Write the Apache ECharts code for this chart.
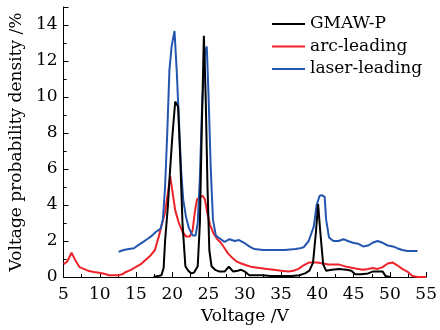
<!DOCTYPE html>
<html>
<head>
<meta charset="utf-8">
<script src="https://cdn.jsdelivr.net/npm/echarts@6/dist/echarts.min.js"></script>
<style>
  html, body { margin: 0; padding: 0; background: #fff; }
  #chart { width: 440px; height: 330px; }
</style>
</head>
<body>
<div id="chart"></div>
<script>
// voltage (V) / probability density (%)
const gmawV = [17.4, 18.0, 18.5, 18.8, 19.0, 19.4, 19.7, 20.0, 20.4, 20.8, 21.1, 21.4, 21.8, 22.2, 22.6, 23.0, 23.5, 23.8, 24.05, 24.35, 24.6, 24.85, 25.1, 25.4, 25.9, 26.5, 27.2, 27.8, 28.4, 29.0, 29.5, 30.0, 30.6, 31.5, 32.5, 33.5, 35.0, 36.5, 37.5, 38.3, 38.9, 39.4, 39.8, 40.1, 40.4, 40.8, 41.2, 42.0, 43.0, 44.0, 44.7, 45.2, 46.0, 47.0, 47.6, 48.3, 49.0, 49.4, 50.0];
const gmawP = [0, 0.05, 0.1, 0.5, 2.0, 4.0, 6.0, 7.8, 9.75, 9.45, 6.5, 3.0, 0.6, 0.35, 0.2, 0.25, 0.6, 3.0, 8.0, 13.4, 10.0, 5.0, 1.5, 0.6, 0.4, 0.3, 0.3, 0.57, 0.3, 0.35, 0.4, 0.3, 0.1, 0.1, 0.1, 0.05, 0.05, 0.05, 0.1, 0.2, 0.35, 0.8, 2.5, 4.05, 2.5, 0.7, 0.35, 0.4, 0.45, 0.4, 0.35, 0.15, 0.15, 0.2, 0.3, 0.3, 0.3, 0.05, 0];

const arcV = [5.0, 5.5, 6.1, 6.6, 7.2, 7.8, 8.5, 9.2, 9.9, 10.6, 11.3, 12.0, 12.6, 13.1, 13.6, 14.3, 15.0, 15.6, 16.3, 17.0, 17.6, 18.1, 18.6, 19.0, 19.4, 19.7, 20.0, 20.4, 20.9, 21.4, 21.9, 22.4, 22.8, 23.1, 23.4, 23.8, 24.2, 24.5, 24.8, 25.2, 25.7, 26.2, 26.7, 27.2, 27.7, 28.3, 28.9, 29.5, 30.2, 31.0, 32.0, 33.0, 34.0, 35.0, 36.0, 36.7, 37.4, 38.1, 38.8, 40.0, 41.5, 42.9, 44.2, 45.6, 46.3, 47.0, 47.6, 48.3, 49.0, 49.7, 50.4, 51.0, 51.7, 52.4, 53.1, 53.8, 55.0];
const arcP = [0.72, 0.85, 1.35, 0.95, 0.55, 0.45, 0.33, 0.28, 0.24, 0.18, 0.1, 0.1, 0.1, 0.15, 0.28, 0.4, 0.56, 0.7, 0.95, 1.2, 1.5, 2.2, 3.0, 3.6, 4.7, 5.6, 4.8, 3.7, 3.0, 2.5, 2.25, 2.25, 2.6, 3.6, 4.3, 4.45, 4.5, 4.3, 3.6, 2.9, 2.4, 2.1, 1.9, 1.6, 1.3, 1.05, 0.85, 0.75, 0.65, 0.55, 0.5, 0.45, 0.4, 0.35, 0.3, 0.35, 0.45, 0.65, 0.8, 0.8, 0.7, 0.7, 0.55, 0.45, 0.4, 0.45, 0.5, 0.45, 0.55, 0.75, 0.8, 0.65, 0.45, 0.3, 0.05, 0, 0];

const laserV = [12.6, 13.3, 14.0, 14.7, 15.4, 16.0, 16.7, 17.2, 17.7, 18.1, 18.4, 18.7, 19.0, 19.3, 19.6, 19.9, 20.3, 20.6, 20.9, 21.2, 21.5, 21.9, 22.3, 22.8, 23.2, 23.5, 23.8, 24.1, 24.5, 24.75, 25.0, 25.3, 25.6, 26.0, 26.5, 27.2, 27.9, 28.6, 29.2, 29.9, 30.6, 31.3, 32.5, 34.0, 35.5, 37.0, 37.6, 38.1, 38.8, 39.5, 39.9, 40.3, 40.6, 41.0, 41.2, 41.6, 42.2, 42.9, 43.6, 44.2, 44.9, 45.6, 46.3, 47.0, 47.6, 48.3, 49.0, 49.7, 50.4, 51.0, 51.7, 52.4, 53.1, 53.8];
const laserP = [1.4, 1.5, 1.55, 1.6, 1.8, 1.95, 2.15, 2.3, 2.5, 2.6, 2.7, 3.2, 5.0, 8.0, 11.5, 12.8, 13.67, 11.5, 8.8, 6.0, 4.3, 3.3, 2.7, 2.3, 2.3, 3.0, 5.5, 9.5, 12.5, 12.8, 10.0, 6.0, 3.2, 2.3, 2.15, 1.95, 2.1, 2.0, 2.05, 1.9, 1.7, 1.55, 1.5, 1.5, 1.5, 1.55, 1.6, 1.65, 2.0, 2.8, 4.0, 4.5, 4.55, 4.45, 3.2, 2.2, 2.0, 2.0, 2.1, 2.0, 1.9, 1.85, 1.7, 1.75, 1.9, 2.0, 1.9, 1.75, 1.7, 1.6, 1.5, 1.45, 1.45, 1.45];

const seriesNames = ['GMAW-P', 'arc-leading', 'laser-leading'];
const seriesColors = ['#000000', '#ee2229', '#2456b0'];

const FONT = 'DejaVu Serif';

function pairs(xs, ys) {
  return xs.map((x, i) => [x, ys[i]]);
}

const chart = echarts.init(document.getElementById('chart'), null, { renderer: 'canvas' });

const axisCommon = {
  axisLine: { show: true, lineStyle: { color: '#000', width: 1 } },
  axisTick: { show: true, inside: true, length: 5, lineStyle: { color: '#000' } },
  minorTick: { show: true, splitNumber: 2, length: 3, lineStyle: { color: '#000' } },
  splitLine: { show: false },
  axisLabel: { color: '#000', fontFamily: FONT, fontSize: 17 },
  nameTextStyle: { color: '#000', fontFamily: FONT, fontSize: 17 }
};

chart.setOption({
  animation: false,
  backgroundColor: '#fff',
  grid: { left: 62, right: 10.5, top: 7, bottom: 53 },
  legend: {
    orient: 'vertical',
    left: 267,
    top: 9,
    itemWidth: 33,
    itemHeight: 2,
    itemGap: 2.5,
    icon: 'rect',
    textStyle: { color: '#000', fontFamily: FONT, fontSize: 17, lineHeight: 20 },
    data: seriesNames
  },
  xAxis: Object.assign({}, axisCommon, {
    type: 'value',
    min: 5,
    max: 55,
    interval: 5,
    name: 'Voltage /V',
    nameLocation: 'middle',
    nameGap: 30,
    axisLabel: Object.assign({}, axisCommon.axisLabel, { margin: 9 })
  }),
  yAxis: Object.assign({}, axisCommon, {
    type: 'value',
    min: 0,
    max: 15,
    interval: 2,
    name: 'Voltage probability density /%',
    nameLocation: 'middle',
    nameGap: 33,
    axisLabel: Object.assign({}, axisCommon.axisLabel, { margin: 6, showMaxLabel: false })
  }),
  series: [
    { name: seriesNames[0], type: 'line', data: pairs(gmawV, gmawP) },
    { name: seriesNames[1], type: 'line', data: pairs(arcV, arcP) },
    { name: seriesNames[2], type: 'line', data: pairs(laserV, laserP) }
  ].map((s, i) => Object.assign(s, {
    showSymbol: false,
    symbol: 'none',
    color: seriesColors[i],
    lineStyle: { color: seriesColors[i], width: 2 },
    z: [3, 1, 2][i]
  }))
});
</script>
</body>
</html>
